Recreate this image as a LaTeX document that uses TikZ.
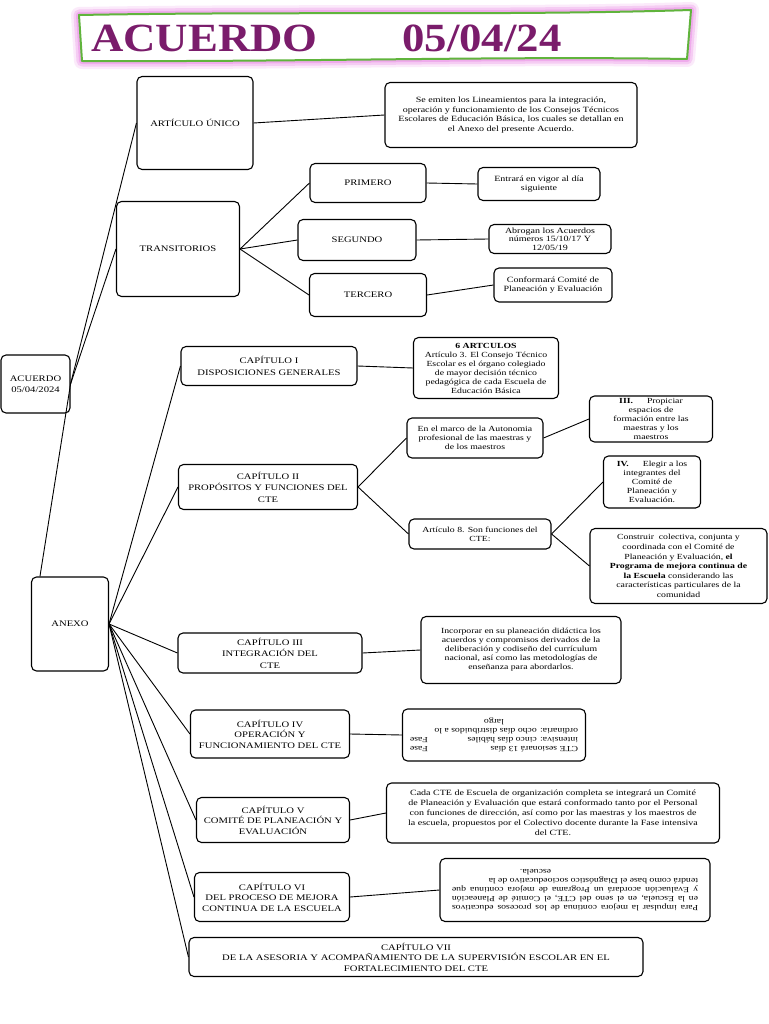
\documentclass[tikz,border=0pt]{standalone}
\usepackage{fontspec}
\setmainfont{Liberation Serif}[FakeStretch=1.25]
\newfontfamily\titlefont{Liberation Serif}[FakeStretch=1.12]
\usepackage{graphicx}
\definecolor{titpurple}{RGB}{122,28,107}
\definecolor{bangreen}{RGB}{96,180,60}
\definecolor{glowpink}{RGB}{236,150,232}
\tikzset{
  bx/.style={draw=black, line width=1.1pt, rounded corners=5pt, align=center, inner sep=1pt,
             font=\fontsize{8.5}{10.5}\selectfont},
  hd/.style={bx, font=\fontsize{8.5}{11.5}\selectfont},
  sm/.style={bx, font=\fontsize{8}{9.5}\selectfont},
  tiny/.style={bx, font=\fontsize{7.8}{9}\selectfont},
  ln/.style={draw=black, line width=0.9pt},
  sz/.style 2 args={minimum width=#1, minimum height=#2},
  titletext/.style={anchor=base west, inner sep=0pt, text=titpurple,
             font=\titlefont\bfseries\fontsize{40}{40}\selectfont}
}
\begin{document}
\begin{tikzpicture}[x=1pt,y=-1pt]
\useasboundingbox (0,0) rectangle (768,1024);
\fill[white] (0,0) rectangle (768,1024);

% ---------- title banner ----------
\draw[glowpink, line width=16pt, opacity=0.2, line join=round]
  (79,15) .. controls (300,11) and (500,16) .. (691,10) -- (687,59) .. controls (500,56) and (300,62) .. (82,61) -- cycle;
\draw[glowpink, line width=11pt, opacity=0.35, line join=round]
  (79,15) .. controls (300,11) and (500,16) .. (691,10) -- (687,59) .. controls (500,56) and (300,62) .. (82,61) -- cycle;
\draw[glowpink, line width=6pt, opacity=0.6, line join=round]
  (79,15) .. controls (300,11) and (500,16) .. (691,10) -- (687,59) .. controls (500,56) and (300,62) .. (82,61) -- cycle;
\draw[bangreen, line width=2pt, fill=white, line join=round]
  (79,15) .. controls (300,11) and (500,16) .. (691,10) -- (687,59) .. controls (500,56) and (300,62) .. (82,61) -- cycle;
\node[titletext] (t1) at (91,52) {ACUERDO};
\node[titletext] (t2) at (402,52) {05/04/24};

% ---------- nodes ----------
\node[bx, sz={69pt}{58pt}] (acu) at (35.5,384) {ACUERDO\\05/04/2024};
\node[bx, sz={116pt}{93pt}] (art) at (195,123) {ARTÍCULO ÚNICO};
\node[sm, sz={252pt}{65pt}] (emi) at (511,115) {Se emiten los Lineamientos para la integración,\\ operación y funcionamiento de los Consejos Técnicos\\ Escolares de Educación Básica, los cuales se detallan en\\ el Anexo del presente Acuerdo.};
\node[bx, sz={123pt}{95pt}] (tra) at (178,249) {TRANSITORIOS};
\node[bx, sz={116pt}{39pt}] (pri) at (368,183) {PRIMERO};
\node[bx, sz={118pt}{41pt}] (seg) at (357,240) {SEGUNDO};
\node[bx, sz={117pt}{43pt}] (ter) at (368,295) {TERCERO};
\node[sm, sz={122pt}{33pt}] (ent) at (539,184) {Entrará en vigor al día\\ siguiente};
\node[bx, sz={122pt}{29pt}, font=\fontsize{8}{8.5}\selectfont] (abr) at (550,239) {Abrogan los Acuerdos\\ números 15/10/17 Y\\ 12/05/19};
\node[sm, sz={118pt}{34pt}] (con) at (553,285) {Conformará Comité de\\ Planeación y Evaluación};

\node[bx, sz={77pt}{94pt}] (anexo) at (70,624) {ANEXO};

\node[hd, sz={176pt}{39pt}] (c1) at (269,366) {CAPÍTULO I\\ DISPOSICIONES GENERALES};
\node[tiny, sz={145pt}{61pt}] (art3) at (486,368) {\textbf{6 ARTCULOS}\\ Artículo 3. El Consejo Técnico\\ Escolar es el órgano colegiado\\ de mayor decisión técnico\\ pedagógica de cada Escuela de\\ Educación Básica};

\node[hd, sz={179pt}{45pt}] (c2) at (268,487) {CAPÍTULO II\\ PROPÓSITOS Y FUNCIONES DEL\\ CTE};
\node[tiny, sz={136pt}{40pt}] (marco) at (475,438) {En el marco de la Autonomia\\ profesional de las maestras y\\ de los maestros};
\node[tiny, sz={142pt}{30pt}] (a8) at (480,534) {Artículo 8. Son funciones del\\ CTE:};
\node[tiny, sz={123pt}{46pt}] (iii) at (651,419) {\textbf{III.}\hspace{14pt}Propiciar\\ espacios de\\ formación entre las\\ maestras y los\\ maestros};
\node[tiny, sz={97pt}{52pt}] (iv) at (652,482) {\textbf{IV.}\hspace{14pt}Elegir a los\\ integrantes del\\ Comité de\\ Planeación y\\ Evaluación.};
\node[tiny, sz={177pt}{75pt}, font=\fontsize{7.8}{9.6}\selectfont] (cons) at (678.5,566) {Construir\ \ colectiva, conjunta y\\ coordinada con el Comité de\\ Planeación y Evaluación, \textbf{el}\\ \textbf{Programa de mejora continua de}\\ \textbf{la Escuela} considerando las\\ características particulares de la\\ comunidad};

\node[hd, sz={184pt}{40pt}] (c3) at (270,653) {CAPÍTULO III\\ INTEGRACIÓN DEL\\ CTE};
\node[tiny, sz={200pt}{67pt}] (inc) at (521,650) {Incorporar en su planeación didáctica los\\ acuerdos y compromisos derivados de la\\ deliberación y codiseño del currículum\\ nacional, así como las metodologías de\\ enseñanza para abordarlos.};

\node[hd, sz={159pt}{48pt}, font=\fontsize{8.5}{10.5}\selectfont] (c4) at (270,734) {CAPÍTULO IV\\ OPERACIÓN Y\\ FUNCIONAMIENTO DEL CTE};
\node[tiny, sz={183pt}{52pt}] (up4) at (494,735) {\rotatebox{180}{\parbox{168pt}{\noindent CTE sesionará 13 días\hfill Fase\\ intensiva: cinco días hábiles\hfill Fase\\ ordinaria: ocho días distribuidos a lo\\ \makebox[\linewidth]{largo}}}};

\node[hd, sz={153pt}{45pt}, font=\fontsize{8.5}{10.5}\selectfont] (c5) at (273,820) {CAPÍTULO V\\ COMITÉ DE PLANEACIÓN Y\\ EVALUACIÓN};
\node[tiny, sz={333pt}{60pt}, font=\fontsize{8}{10}\selectfont] (cada) at (553,813) {Cada CTE de Escuela de organización completa se integrará un Comité\\ de Planeación y Evaluación que estará conformado tanto por el Personal\\ con funciones de dirección, así como por las maestras y los maestros de\\ la escuela, propuestos por el Colectivo docente durante la Fase intensiva\\ del CTE.};

\node[hd, sz={155pt}{49pt}, font=\fontsize{8.5}{10.5}\selectfont] (c6) at (272,897) {CAPÍTULO VI\\ DEL PROCESO DE MEJORA\\ CONTINUA DE LA ESCUELA};
\node[tiny, sz={270pt}{63pt}] (up6) at (575,890) {\rotatebox{180}{\parbox{246pt}{\noindent Para impulsar la mejora continua de los procesos educativos\linebreak
 en la Escuela, en el seno del CTE, el Comité de Planeación\linebreak
 y Evaluación acordará un Programa de mejora continua que\linebreak
 tendrá como base el Diagnóstico socioeducativo de la\\
 \hspace*{\fill}escuela.\hspace*{68pt}}}};

\node[hd, sz={454pt}{39pt}, font=\fontsize{8.5}{10.5}\selectfont] (c7) at (416,957) {CAPÍTULO VII\\ DE LA ASESORIA Y ACOMPAÑAMIENTO DE LA SUPERVISIÓN ESCOLAR EN EL\\ FORTALECIMIENTO DEL CTE};

% ---------- connectors ----------
\draw[ln] (acu.east) -- (art.west);
\draw[ln] (acu.east) -- (tra.west);
\draw[ln] (acu.east) -- ([xshift=9pt]anexo.north west);
\draw[ln] (art.east) -- (emi.west);
\draw[ln] (tra.east) -- (pri.west);
\draw[ln] (tra.east) -- (seg.west);
\draw[ln] (tra.east) -- (ter.west);
\draw[ln] (pri.east) -- (ent.west);
\draw[ln] (seg.east) -- (abr.west);
\draw[ln] (ter.east) -- (con.west);

\draw[ln] (anexo.east) -- (c1.west);
\draw[ln] (anexo.east) -- (c2.west);
\draw[ln] (anexo.east) -- (c3.west);
\draw[ln] (anexo.east) -- (c4.west);
\draw[ln] (anexo.east) -- (c5.west);
\draw[ln] (anexo.east) -- (c6.west);
\draw[ln] (anexo.east) -- (c7.west);

\draw[ln] (c1.east) -- (art3.west);
\draw[ln] (c2.east) -- (marco.west);
\draw[ln] (c2.east) -- (a8.west);
\draw[ln] (marco.east) -- (iii.west);
\draw[ln] (a8.east) -- (iv.west);
\draw[ln] (a8.east) -- (cons.west);
\draw[ln] (c3.east) -- (inc.west);
\draw[ln] (c4.east) -- (up4.west);
\draw[ln] (c5.east) -- (cada.west);
\draw[ln] (c6.east) -- (up6.west);
\end{tikzpicture}
\end{document}
